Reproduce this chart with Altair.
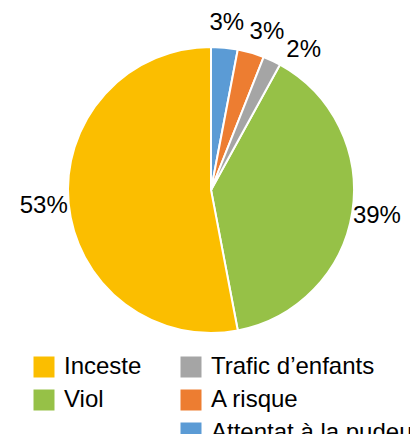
import altair as alt
import pandas as pd

categories = ["Attentat à la pudeur", "A risque", "Trafic d’enfants", "Viol", "Inceste"]
values = [3, 3, 2, 39, 53]
colors = ["#5B9BD5", "#ED7D31", "#A5A5A5", "#96C147", "#FBBE00"]
slice_order = [1, 2, 3, 4, 5]
legend_group = [2, 2, 2, 1, 1]

df = pd.DataFrame({"cat": categories, "value": values, "ord": slice_order, "grp": legend_group})
df = df.sort_values("ord").reset_index(drop=True)
df["cum"] = df["value"].cumsum()
df["start"] = df["cum"] - df["value"]
df["mid"] = df["start"] + df["value"] / 2
# simple label de-collision: keep neighbouring labels a minimum angular gap apart
MIN_GAP = 3.9
lab = []
for m in df["mid"]:
    lab.append(m if not lab else max(m, lab[-1] + MIN_GAP))
df["lab"] = lab
df["pct"] = df["value"].astype(str) + "%"

FONT = "Liberation Sans"
CX, CY = 203, 182

base = alt.Chart(df)
theta_scale = alt.Scale(domain=[0, 100])


def arcs(grp, legend_x, dom):
    rng = [colors[categories.index(c)] for c in dom]
    return base.transform_filter(f"datum.grp == {grp}").mark_arc(
        radius=143, stroke="white", strokeWidth=2
    ).encode(
        theta=alt.Theta("start:Q", scale=theta_scale),
        theta2="cum:Q",
        x=alt.value(CX),
        y=alt.value(CY),
        color=alt.Color(
            "cat:N",
            scale=alt.Scale(domain=dom, range=rng),
            legend=alt.Legend(
                title=None, orient="none", legendX=legend_x, legendY=347,
                symbolType="square", symbolSize=441, symbolStrokeWidth=0,
                labelFont=FONT, labelFontSize=24, labelColor="#000000",
                labelOffset=8, rowPadding=9, labelLimit=0, padding=0,
            ),
        ),
    )


arc1 = arcs(1, 24, ["Inceste", "Viol"])
arc2 = arcs(2, 171, ["Trafic d’enfants", "A risque", "Attentat à la pudeur"])

labels = base.mark_text(font=FONT, fontSize=24, color="#000000").encode(
    theta=alt.Theta("lab:Q", scale=theta_scale),
    radius=alt.value(168),
    x=alt.value(CX),
    y=alt.value(CY),
    text=alt.Text("pct:N"),
)

chart = alt.layer(arc1, arc2, labels).resolve_scale(color="independent").properties(
    width=402, height=426, autosize="none", padding=0
).configure_view(stroke=None)

chart.save("out.html", embed_options={"renderer": "svg", "actions": False})
